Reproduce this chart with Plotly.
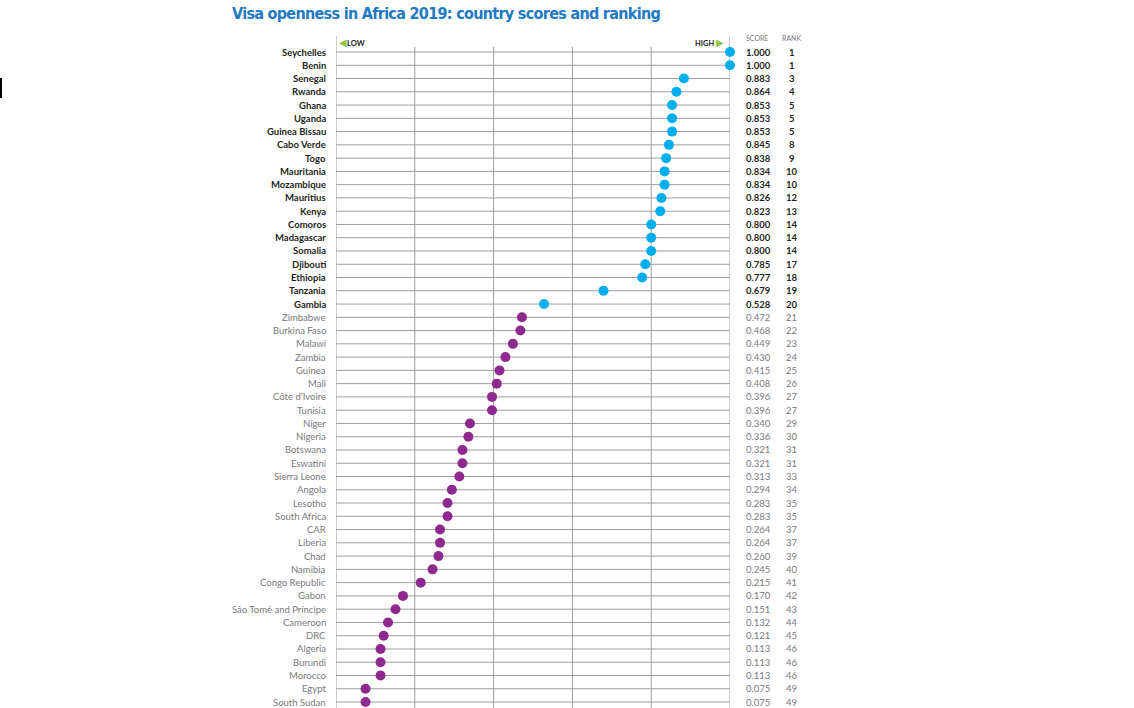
import plotly.graph_objects as go

countries = ["Seychelles", "Benin", "Senegal", "Rwanda", "Ghana", "Uganda", "Guinea Bissau",
             "Cabo Verde", "Togo", "Mauritania", "Mozambique", "Mauritius", "Kenya", "Comoros",
             "Madagascar", "Somalia", "Djibouti", "Ethiopia", "Tanzania", "Gambia",
             "Zimbabwe", "Burkina Faso", "Malawi", "Zambia", "Guinea", "Mali", "Côte d’Ivoire",
             "Tunisia", "Niger", "Nigeria", "Botswana", "Eswatini", "Sierra Leone", "Angola",
             "Lesotho", "South Africa", "CAR", "Liberia", "Chad", "Namibia", "Congo Republic",
             "Gabon", "São Tomé and Príncipe", "Cameroon", "DRC", "Algeria", "Burundi",
             "Morocco", "Egypt", "South Sudan"]
scores = [1.000, 1.000, 0.883, 0.864, 0.853, 0.853, 0.853, 0.845, 0.838, 0.834, 0.834, 0.826,
          0.823, 0.800, 0.800, 0.800, 0.785, 0.777, 0.679, 0.528,
          0.472, 0.468, 0.449, 0.430, 0.415, 0.408, 0.396, 0.396, 0.340, 0.336, 0.321, 0.321,
          0.313, 0.294, 0.283, 0.283, 0.264, 0.264, 0.260, 0.245, 0.215, 0.170, 0.151, 0.132,
          0.121, 0.113, 0.113, 0.113, 0.075, 0.075]
ranks = [1, 1, 3, 4, 5, 5, 5, 8, 9, 10, 10, 12, 13, 14, 14, 14, 17, 18, 19, 20,
         21, 22, 23, 24, 25, 26, 27, 27, 29, 30, 31, 31, 33, 34, 35, 35, 37, 37, 39, 40,
         41, 42, 43, 44, 45, 46, 46, 46, 49, 49]
top_group_size = 20
x_ticks = [0.2, 0.4, 0.6, 0.8]

BLUE = "#00aeef"
PURPLE = "#8e2a8f"
DARK = "#231f20"
GREY_TXT = "#77787b"
GRID = "#9d9d9d"
FONT = "Lato, 'Open Sans', sans-serif"

n = len(countries)
rows = list(range(n))
y_top, y_bot = -1.206, n - 1 + 0.45

fig = go.Figure()

# horizontal row lines
for i in rows:
    fig.add_shape(type="line", xref="x", yref="y", x0=0, x1=1, y0=i, y1=i,
                  line=dict(color=GRID, width=1), layer="below")
# inner vertical lines
for xv in x_ticks:
    fig.add_shape(type="line", xref="x", yref="y", x0=xv, x1=xv, y0=-0.4, y1=y_bot,
                  line=dict(color=GRID, width=1), layer="below")
# outer vertical lines
for xv in [0, 1]:
    fig.add_shape(type="line", xref="x", yref="y", x0=xv, x1=xv, y0=y_top, y1=y_bot,
                  line=dict(color=GRID, width=1), layer="below")

fig.add_trace(go.Scatter(x=scores[:top_group_size], y=rows[:top_group_size], mode="markers",
                         marker=dict(color=BLUE, size=10, line=dict(width=0)),
                         cliponaxis=False, hoverinfo="skip", showlegend=False))
fig.add_trace(go.Scatter(x=scores[top_group_size:], y=rows[top_group_size:], mode="markers",
                         marker=dict(color=PURPLE, size=10, line=dict(width=0)),
                         cliponaxis=False, hoverinfo="skip", showlegend=False))

ann = []
for i, (c, s, r) in enumerate(zip(countries, scores, ranks)):
    top = i < top_group_size
    col = DARK if top else GREY_TXT
    wrap = (lambda t: f"<b>{t}</b>") if top else (lambda t: t)
    ann.append(dict(x=-0.021, y=i, xref="paper", yref="y", text=wrap(c), showarrow=False,
                    xanchor="right", yanchor="middle", font=dict(family=FONT, size=9.5, color=col)))
    ann.append(dict(x=1.036, y=i, xref="paper", yref="y", text=wrap(f"{s:.3f}"), showarrow=False,
                    xanchor="left", yanchor="middle", font=dict(family=FONT, size=9.5, color=col)))
    ann.append(dict(x=1.157, y=i, xref="paper", yref="y", text=wrap(str(r)), showarrow=False,
                    xanchor="center", yanchor="middle", font=dict(family=FONT, size=9.5, color=col)))

ann.append(dict(x=1.036, y=-1.05, xref="paper", yref="y", text="SCORE", showarrow=False,
                xanchor="left", yanchor="middle", font=dict(family=FONT, size=7, color=GREY_TXT)))
ann.append(dict(x=1.157, y=-1.05, xref="paper", yref="y", text="RANK", showarrow=False,
                xanchor="center", yanchor="middle", font=dict(family=FONT, size=7, color=GREY_TXT)))
ann.append(dict(x=0.003, y=-0.78, xref="paper", yref="y",
                text="<span style='color:#8dc63f;font-size:10px'>◀</span><b>LOW</b>", showarrow=False,
                xanchor="left", yanchor="middle", font=dict(family=FONT, size=7.5, color=DARK)))
ann.append(dict(x=0.99, y=-0.78, xref="paper", yref="y",
                text="<b>HIGH</b> <span style='color:#8dc63f;font-size:10px'>▶</span>", showarrow=False,
                xanchor="right", yanchor="middle", font=dict(family=FONT, size=7.5, color=DARK)))

# small black mark on the far left edge
fig.add_shape(type="line", xref="paper", yref="paper", x0=-335 / 394, x1=-335 / 394,
              y0=(708 - 98) / 672, y1=(708 - 78) / 672, line=dict(color="black", width=2))

fig.update_layout(
    width=1134, height=708,
    margin=dict(l=336, r=404, t=36, b=0),
    paper_bgcolor="white", plot_bgcolor="white",
    title=dict(text="<b><span style='letter-spacing:-0.7px'>Visa openness in Africa 2019: country scores and ranking</span></b>",
               x=232 / 1134, xanchor="left", y=1 - 13 / 708, yanchor="middle",
               font=dict(family="'Liberation Sans Narrow', 'DejaVu Sans Condensed', sans-serif",
                         size=16, color="#2079c2")),
    xaxis=dict(range=[0, 1], showgrid=False, zeroline=False, showticklabels=False,
               showline=False, fixedrange=True),
    yaxis=dict(range=[y_bot, y_top], showgrid=False, zeroline=False, showticklabels=False,
               showline=False, fixedrange=True),
    annotations=ann,
    showlegend=False,
)

fig.write_html("out.html", config={"displayModeBar": False},
               post_script="document.body.style.margin='0';")
